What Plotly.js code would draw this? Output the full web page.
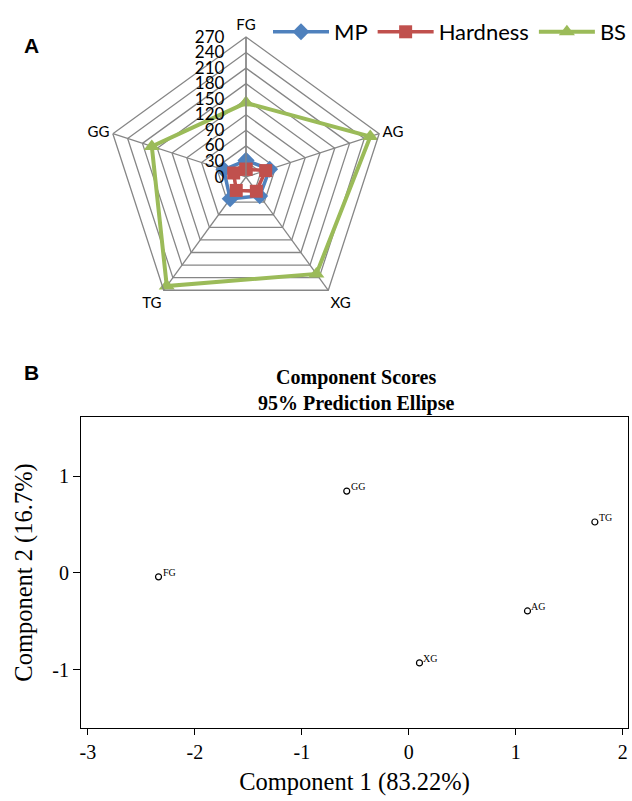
<!DOCTYPE html>
<html>
<head>
<meta charset="utf-8">
<script src="https://cdn.plot.ly/plotly-3.0.1.min.js"></script>
<style>html,body{margin:0;padding:0;background:#fff}#chart{width:632px;height:801px}</style>
</head>
<body>
<div id="chart"></div>
<script>
// ---- Panel A: radar data ----
const radarCategories = ["FG", "AG", "XG", "TG", "GG"];
const mpValues = [32, 48, 45, 52, 45];
const hardnessValues = [15, 40, 34, 32, 25];
const bsValues = [143, 252, 231, 260, 191];
const radialTicks = [0, 30, 60, 90, 120, 150, 180, 210, 240, 270];

// ---- Panel B: PCA scores ----
const pcaLabels = ["FG", "GG", "TG", "AG", "XG"];
const pcaComp1 = [-2.34, -0.58, 1.74, 1.11, 0.10];
const pcaComp2 = [-0.04, 0.845, 0.526, -0.392, -0.928];
const xTicks = [-3, -2, -1, 0, 1, 2];
const yTicks = [-1, 0, 1];

function closeLoop(arr) { return arr.concat([arr[0]]); }

const W = 632, H = 801;
const px = v => v / W;
const py = v => 1 - v / H;

const traces = [
  {
    type: "scatterpolar", name: "MP",
    r: closeLoop(mpValues), theta: closeLoop(radarCategories),
    mode: "lines+markers",
    line: {color: "#4F81BD", width: 3.5},
    marker: {symbol: "diamond", size: 13, color: "#4F81BD"},
    subplot: "polar"
  },
  {
    type: "scatterpolar", name: "Hardness",
    r: closeLoop(hardnessValues), theta: closeLoop(radarCategories),
    mode: "lines+markers",
    line: {color: "#C0504D", width: 3.5},
    marker: {symbol: "square", size: 13, color: "#C0504D"},
    subplot: "polar"
  },
  {
    type: "scatterpolar", name: "BS",
    r: closeLoop(bsValues), theta: closeLoop(radarCategories),
    mode: "lines+markers",
    line: {color: "#9BBB59", width: 4},
    marker: {symbol: "triangle-up", size: 14, color: "#9BBB59"},
    subplot: "polar"
  },
  {
    type: "scatter", name: "scores",
    x: pcaComp1, y: pcaComp2,
    mode: "markers",
    marker: {symbol: "circle-open", size: 6, color: "#000", line: {width: 1.2, color: "#000"}},
    showlegend: false, xaxis: "x", yaxis: "y"
  }
];

const pointLabels = pcaLabels.map((t, i) => ({
  text: t, x: pcaComp1[i], y: pcaComp2[i], xref: "x", yref: "y",
  xanchor: "left", yanchor: "bottom", xshift: 2, yshift: -3, showarrow: false,
  font: {family: "Liberation Serif", size: 10, color: "#000000"}
}));

const layout = {
  width: W, height: H,
  margin: {l: 0, r: 0, t: 0, b: 0},
  paper_bgcolor: "#fff", plot_bgcolor: "#fff",
  showlegend: true,
  legend: {
    orientation: "h",
    x: 1, y: py(11), xanchor: "right", yanchor: "top",
    font: {family: "Lato", size: 22, color: "#000"},
    bgcolor: "rgba(0,0,0,0)", itemwidth: 56, tracegroupgap: 0
  },
  polar: {
    domain: {x: [px(106), px(386)], y: [py(318), py(36)]},
    gridshape: "linear",
    bgcolor: "#fff",
    radialaxis: {
      range: [0, 270], tickvals: radialTicks, angle: 90,
      side: "counterclockwise",
      showline: true, linecolor: "#868686", linewidth: 1.3,
      gridcolor: "#868686", gridwidth: 1.3,
      ticks: "outside", ticklen: 15, tickcolor: "rgba(0,0,0,0)", tickangle: 90,
      tickfont: {family: "Lato", size: 17, color: "#000"}
    },
    angularaxis: {
      direction: "clockwise", rotation: 90,
      categoryorder: "array", categoryarray: radarCategories,
      showline: true, linecolor: "#868686", linewidth: 1.3,
      gridcolor: "#868686", gridwidth: 1.3,
      ticks: "", tickfont: {family: "Lato", size: 15, color: "#000"}
    }
  },
  xaxis: {
    domain: [px(81), px(628)], anchor: "y",
    range: [-3.065, 2.05], tickvals: xTicks, ticktext: xTicks.map(String),
    showgrid: false, zeroline: false,
    showline: true, mirror: true, linecolor: "#000", linewidth: 1,
    ticks: "outside", ticklen: 6, tickcolor: "#000",
    tickfont: {family: "Liberation Serif", size: 20, color: "#000"},
    title: {text: "Component 1 (83.22%)", font: {family: "Liberation Serif", size: 24.5, color: "#000"}, standoff: 10}
  },
  yaxis: {
    domain: [py(728), py(417)], anchor: "x",
    range: [-1.6, 1.61], tickvals: yTicks, ticktext: yTicks.map(String),
    showgrid: false, zeroline: false,
    showline: true, mirror: true, linecolor: "#000", linewidth: 1,
    ticks: "outside", ticklen: 7, tickcolor: "#000",
    tickfont: {family: "Liberation Serif", size: 20, color: "#000"},
    title: {text: "Component 2 (16.7%)", font: {family: "Liberation Serif", size: 24.5, color: "#000"}, standoff: 12}
  },
  annotations: [
    {text: "<b>A</b>", x: px(22), y: py(32), xref: "paper", yref: "paper", showarrow: false,
     font: {family: "Liberation Sans", size: 21, color: "#000"}},
    {text: "<b>B</b>", x: px(22), y: py(372), xref: "paper", yref: "paper", showarrow: false,
     font: {family: "Liberation Sans", size: 21, color: "#000"}},
    {text: "<b>Component Scores</b><br><b>95% Prediction Ellipse</b>", x: px(356), y: py(390),
     xref: "paper", yref: "paper", showarrow: false,
     font: {family: "Liberation Serif", size: 20, color: "#000"}}
  ].concat(pointLabels)
};

Plotly.newPlot("chart", traces, layout, {displayModeBar: false, staticPlot: true});
</script>
</body>
</html>
